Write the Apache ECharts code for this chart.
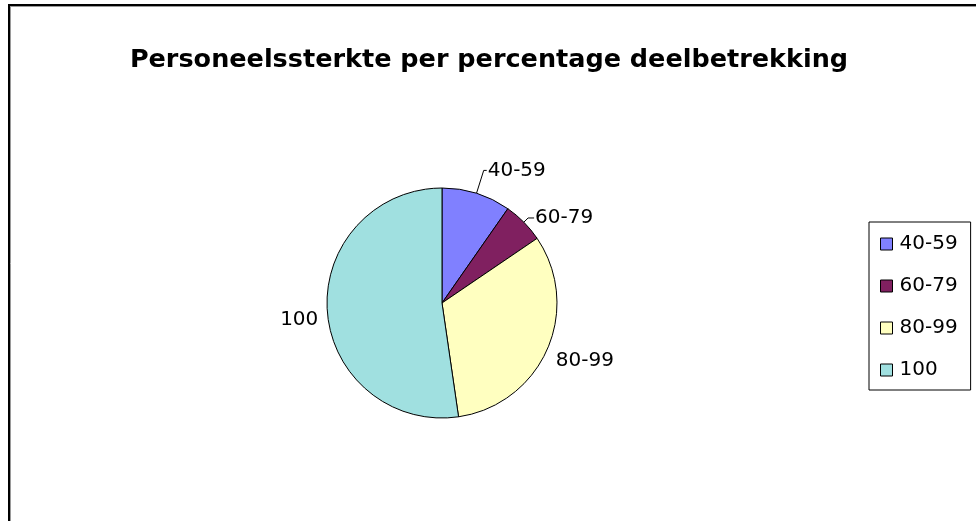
<!DOCTYPE html>
<html>
<head>
<meta charset="utf-8">
<script src="https://cdn.jsdelivr.net/npm/echarts@6/dist/echarts.min.js"></script>
<style>
  html, body { margin: 0; padding: 0; background: #ffffff; }
  #chart { width: 976px; height: 521px; }
</style>
</head>
<body>
<div id="chart"></div>
<script>
// Share of staff per part-time percentage band
const categories = ['40-59', '60-79', '80-99', '100'];
const values = [9.7, 5.8, 32.2, 52.3];
const colors = ['#8080FF', '#802060', '#FFFFC0', '#A0E0E0'];

// leader line lengths per slice label (the two big slices carry no visible line)
const leaderLen = [24, 6, 6, 6];
const leaderLen2 = [3, 6, 2, 2];
const leaderShown = [true, true, false, false];
// small downward nudge for the labels that sit beside the pie
const labelNudge = [0, 0, 9, 8];

const chart = echarts.init(document.getElementById('chart'), null, { renderer: 'canvas' });

const font = '"DejaVu Sans", Verdana, sans-serif';

chart.setOption({
  animation: false,
  backgroundColor: '#ffffff',
  title: {
    text: 'Personeelssterkte per percentage deelbetrekking',
    left: 484,
    top: 42,
    textAlign: 'center',
    textStyle: { fontFamily: font, fontSize: 25.5, fontWeight: 'bold', color: '#000000' }
  },
  legend: {
    orient: 'vertical',
    left: 869,
    top: 222,
    padding: [12, 13, 10, 11],
    itemGap: 22,
    itemWidth: 12,
    itemHeight: 12,
    icon: 'rect',
    borderColor: '#000000',
    borderWidth: 1,
    data: categories,
    itemStyle: { borderColor: '#000000', borderWidth: 1 },
    textStyle: { fontFamily: font, fontSize: 20, color: '#000000', padding: [0, 0, 0, 2] }
  },
  graphic: [
    { type: 'line', shape: { x1: 9, y1: 5, x2: 9, y2: 521 }, style: { stroke: '#000000', lineWidth: 2 } },
    { type: 'line', shape: { x1: 8, y1: 5, x2: 976, y2: 5 }, style: { stroke: '#000000', lineWidth: 2 } },
    { type: 'line', shape: { x1: 10.5, y1: 6, x2: 10.5, y2: 521 }, style: { stroke: '#9a9a9a', lineWidth: 1 } },
    { type: 'line', shape: { x1: 10, y1: 6.5, x2: 976, y2: 6.5 }, style: { stroke: '#9a9a9a', lineWidth: 1 } }
  ],
  series: [{
    type: 'pie',
    center: [442, 303],
    radius: 115,
    startAngle: 90,
    clockwise: true,
    avoidLabelOverlap: false,
    itemStyle: { borderColor: '#000000', borderWidth: 1 },
    label: {
      show: true,
      position: 'outside',
      formatter: '{b}',
      fontFamily: font,
      fontSize: 20,
      color: '#000000',
      distanceToLabelLine: 1
    },
    labelLine: {
      show: true,
      lineStyle: { color: '#000000', width: 1 }
    },
    labelLayout: function (params) {
      return { dy: labelNudge[params.dataIndex] };
    },
    data: categories.map((name, i) => ({
      name: name,
      value: values[i],
      itemStyle: { color: colors[i] },
      labelLine: { show: leaderShown[i], length: leaderLen[i], length2: leaderLen2[i] }
    }))
  }]
});
</script>
</body>
</html>
